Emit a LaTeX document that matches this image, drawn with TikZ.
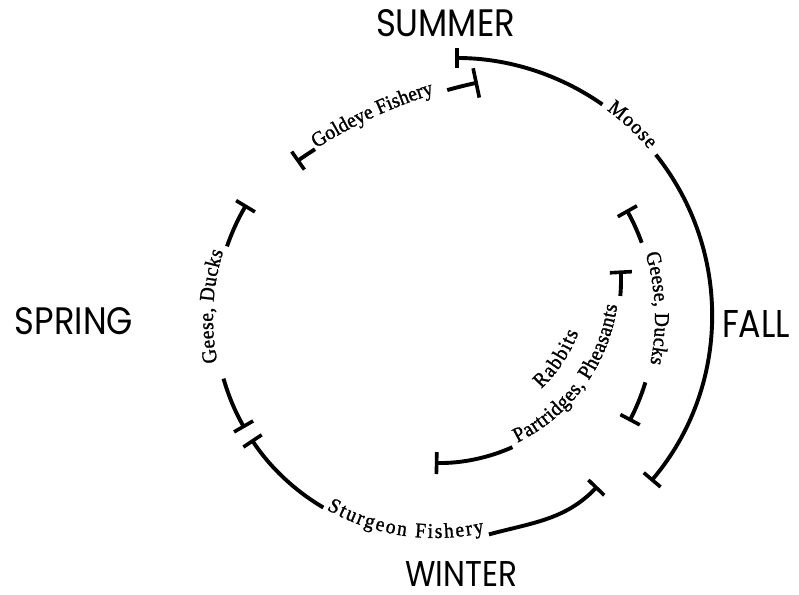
\documentclass[tikz,border=0pt]{standalone}
\usepackage{fontspec}
\usepackage{graphicx}
\usetikzlibrary{arrows.meta,calc,decorations.text}
\newfontfamily\labfont[FakeBold=1.2, FakeStretch=0.93]{Liberation Serif}
\newfontfamily\seasonfont{Poppins}
\newcommand\arcfont{\labfont\fontsize{21}{21}\selectfont}
\tikzset{
  arcline/.style={line width=3.9pt, line cap=butt},
  tee/.style={-{Bar[width=22pt,line width=3.6pt]}},
  teestart/.style={{Bar[width=22pt,line width=3.6pt]}-},
  season/.style={inner sep=0pt, text=black},
  arctext/.style 2 args={decorate, decoration={text along path, text align={fit to path}, raise=#2, text={|\arcfont|#1}}}
}
\begin{document}
\begin{tikzpicture}[x=1pt,y=1pt]
\fill[white] (0,0) rectangle (799,-594);
\useasboundingbox (0,0) rectangle (799,-594);

\coordinate (c1) at (435,-318);
\coordinate (c2) at (455,-315);
\coordinate (c3) at (579,-562);
\coordinate (c4) at (438,-280);

% season labels
\node[season] (summer) at (445.5,-23.5) {\resizebox{139pt}{27pt}{\seasonfont SUMMER}};
\node[season] (spring) at (74,-321.5) {\resizebox{118pt}{27pt}{\seasonfont SPRING}};
\node[season] (fall) at (756,-323.5) {\resizebox{68pt}{27pt}{\seasonfont FALL}};
\node[season] (winter) at (461,-574) {\resizebox{112pt}{25pt}{\seasonfont WINTER}};

% Goldeye Fishery
\draw[arcline, teestart] ($(c3)+(125.2:490)$) arc[start angle=125.2, end angle=122.6, radius=490];
\path[arctext={Goldeye Fishery}{0pt}] ($(c3)+(122.4:490)$) arc[start angle=122.4, end angle=107.2, radius=490];
\draw[arcline, -{Bar[width=30pt,line width=3.6pt]}] ($(c3)+(105.6:490)$) arc[start angle=105.6, end angle=101.9, radius=490];

% Moose
\draw[arcline, {Bar[width=20pt,line width=3.6pt]}-] ($(c2)+(90:257)$) arc[start angle=90, end angle=55, radius=257];
\path[arctext={Moose}{-2pt}] ($(c2)+(53.5:257)$) arc[start angle=53.5, end angle=40.5, radius=257];
\draw[arcline, tee] ($(c2)+(38.6:257)$) arc[start angle=38.6, end angle=-40.3, radius=257];

% Geese, Ducks (spring)
\draw[arcline, tee] ($(c1)+(161:220)$) arc[start angle=161, end angle=149, radius=220];
\path[arctext={Geese, Ducks}{2pt}] ($(c1)+(191.5:220)$) arc[start angle=191.5, end angle=162.5, radius=220];
\draw[arcline, tee] ($(c1)+(196:220)$) arc[start angle=196, end angle=210, radius=220];

% Sturgeon Fishery
\draw[arcline, teestart] ($(c1)+(213.5:220)$) arc[start angle=213.5, end angle=239.5, radius=220];
\path[arctext={Sturgeon Fishery}{0pt}] ($(c1)+(240.5:220)$) arc[start angle=240.5, end angle=283, radius=220];
\draw[arcline, tee] ($(c1)+(284:223)$) to[out=15, in=226] ($(c1)+(314:234)$);

% Geese, Ducks (fall)
\draw[arcline, tee] ($(c1)+(20:220)$) arc[start angle=20, end angle=29.5, radius=220];
\path[arctext={Geese, Ducks}{0pt}] ($(c1)+(17:220)$) arc[start angle=17, end angle=-12, radius=220];
\draw[arcline, tee] ($(c1)+(-17:220)$) arc[start angle=-17, end angle=-28, radius=220];

% Rabbits / Partridges, Pheasants
\draw[arcline, teestart] ($(c4)+(3:183)$) arc[start angle=3, end angle=-5, radius=183];
\path[arctext={Partridges, Pheasants}{0pt}] ($(c4)+(-64:181)$) arc[start angle=-64, end angle=-8, radius=181];
\path[arctext={Rabbits}{0pt}] ($(c4)+(-46.5:150)$) arc[start angle=-46.5, end angle=-20.5, radius=150];
\draw[arcline, tee] ($(c4)+(-66:183)$) arc[start angle=-66, end angle=-91, radius=183];
\end{tikzpicture}
\end{document}
